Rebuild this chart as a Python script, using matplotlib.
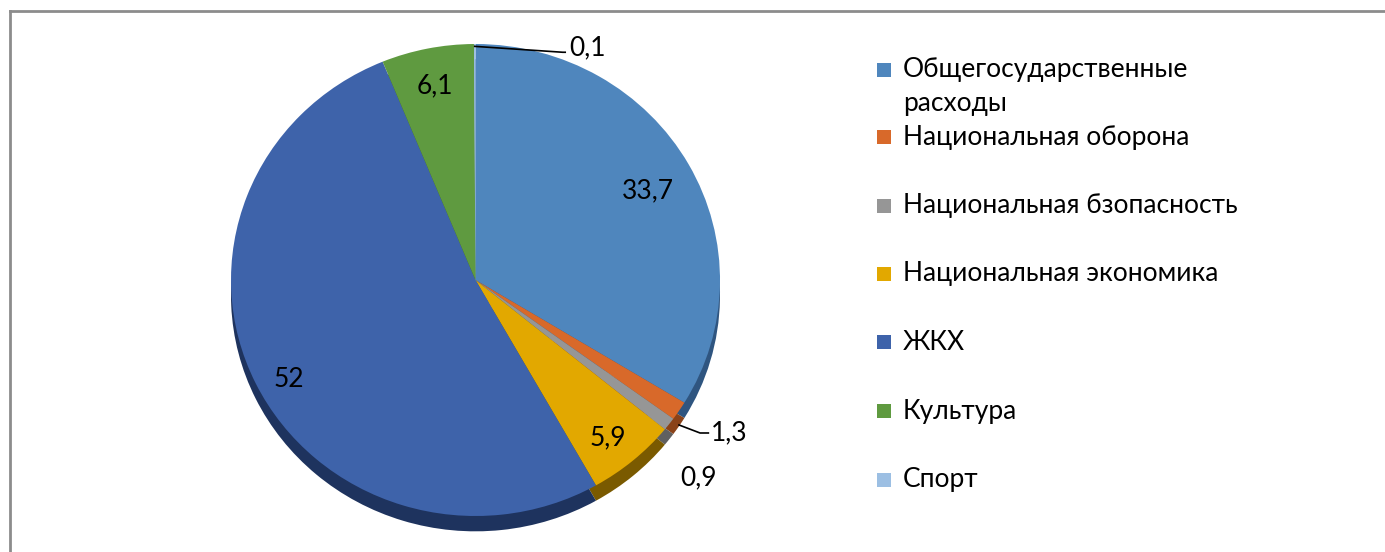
import matplotlib
matplotlib.use("Agg")
import matplotlib.pyplot as plt
from matplotlib.patches import Rectangle
from matplotlib.lines import Line2D
import numpy as np

plt.rcParams['font.family'] = ['Lato', 'DejaVu Sans']

# data
categories = ['Общегосударственные\nрасходы', 'Национальная оборона',
              'Национальная бзопасность', 'Национальная экономика',
              'ЖКХ', 'Культура', 'Спорт']
values = [33.7, 1.3, 0.9, 5.9, 52, 6.1, 0.1]
value_labels = ['33,7', '1,3', '0,9', '5,9', '52', '6,1', '0,1']
colors = ['#4F86BD', '#D8692A', '#969696', '#E2A800', '#3E63AA', '#5F9A40', '#9CBFE3']
side_colors = ['#2F5580', '#8A4218', '#606060', '#7A5A00', '#1E335E', '#3A6025', '#6A8FB5']

W, H = 1385, 552
FS = 19
fig = plt.figure(figsize=(W / 100, H / 100), dpi=100)

# outer frame
fig.add_artist(Line2D([10 / W, 10 / W], [0, 1 - 11 / H], color='#8C8C8C', lw=2,
                      transform=fig.transFigure))
fig.add_artist(Line2D([10 / W, 1384 / W], [1 - 11 / H, 1 - 11 / H], color='#8C8C8C', lw=2,
                      transform=fig.transFigure))

# pie axes: slightly flattened ellipse
cx, cy = 475.5, 280          # pixel centre (from top)
rx, ry = 244.5, 236
lim = 1.1
ax = fig.add_axes([(cx - lim * rx) / W, (H - cy - lim * ry) / H,
                   2 * lim * rx / W, 2 * lim * ry / H])

depth = 0.065
# side (3D depth)
ax.pie(values, colors=side_colors, startangle=90, counterclock=False,
       center=(0, -depth), wedgeprops=dict(linewidth=0))
wedges, _ = ax.pie(values, colors=colors, startangle=90, counterclock=False,
                   wedgeprops=dict(linewidth=0))
ax.set_aspect('auto')
ax.set_xlim(-lim, lim)
ax.set_ylim(-lim, lim)
ax.axis('off')

# data labels: radius and small angle shift per label
label_r = [0.80, None, 1.24, 0.86, 0.87, 0.84, None]
label_da = [-1, 0, -5, -1, 3, 0, 0]
for i, w in enumerate(wedges):
    if label_r[i] is None:
        continue
    ang = np.deg2rad((w.theta1 + w.theta2) / 2 + label_da[i])
    ax.text(label_r[i] * np.cos(ang), label_r[i] * np.sin(ang), value_labels[i],
            ha='center', va='center', fontsize=FS)

# leader-line labels (1,3 and 0,1)
ang = np.deg2rad((wedges[1].theta1 + wedges[1].theta2) / 2)
x0, y0 = np.cos(ang), np.sin(ang) - 0.06
ax.plot([x0, x0 + 0.086, x0 + 0.12], [y0, y0 - 0.034, y0 - 0.034], color='black', lw=1.2,
        clip_on=False)
ax.text(x0 + 0.13, y0 - 0.034, value_labels[1], ha='left', va='center', fontsize=FS)

ang = np.deg2rad((wedges[6].theta1 + wedges[6].theta2) / 2)
x0, y0 = np.cos(ang), np.sin(ang) - 0.01
ax.plot([x0, x0 + 0.36, x0 + 0.37], [y0, y0 - 0.025, y0 - 0.025], color='black', lw=1.2,
        clip_on=False)
ax.text(x0 + 0.385, y0 - 0.005, value_labels[6], ha='left', va='center', fontsize=FS)

# legend (drawn manually to follow the original's spacing)
legend_y = [70, 137, 206, 274, 342, 411, 480]
line_gap = 33
for lab, col, y in zip(categories, colors, legend_y):
    fig.add_artist(Rectangle((877 / W, 1 - (y + 7) / H), 14 / W, 14 / H,
                             facecolor=col, edgecolor='none', transform=fig.transFigure))
    for j, line in enumerate(lab.split('\n')):
        fig.text(903 / W, 1 - (y + j * line_gap) / H, line, ha='left', va='center',
                 fontsize=FS)

fig.savefig('out.png', dpi=100, facecolor='white')
